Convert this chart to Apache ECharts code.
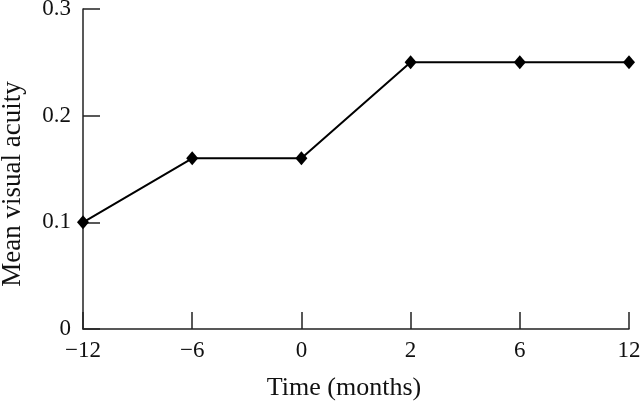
<!DOCTYPE html>
<html>
<head>
<meta charset="utf-8">
<script src="https://cdn.jsdelivr.net/npm/echarts@6/dist/echarts.min.js"></script>
<style>
  html, body { margin: 0; padding: 0; background: #fff; }
  #chart { width: 640px; height: 401px; }
</style>
</head>
<body>
<div id="chart"></div>
<script>
// 时间点 (月)
var months = ['\u221212', '\u22126', '0', '2', '6', '12'];
// 平均视力
var acuity = [0.1, 0.16, 0.16, 0.25, 0.25, 0.25];

var font = '"Liberation Serif", "DejaVu Serif", serif';

var myChart = echarts.init(document.getElementById('chart'));
var option = {
  animation: false,
  grid: { left: 83, right: 11, top: 9, bottom: 72, outerBoundsMode: 'none', containLabel: false },
  xAxis: {
    type: 'category',
    data: months,
    boundaryGap: false,
    name: 'Time (months)',
    nameLocation: 'middle',
    nameGap: 46,
    nameTextStyle: { color: '#111', fontSize: 26, fontFamily: font, padding: [0, 24, 0, 0] },
    axisLine: { lineStyle: { color: '#222', width: 1.5 } },
    axisTick: { inside: true, length: 17, lineStyle: { color: '#222', width: 1.5 } },
    axisLabel: { color: '#111', fontSize: 23, fontFamily: font, margin: 10 },
    splitLine: { show: false }
  },
  yAxis: {
    type: 'value',
    min: 0,
    max: 0.3,
    interval: 0.1,
    name: 'Mean visual acuity',
    nameLocation: 'middle',
    nameGap: 57,
    nameTextStyle: { color: '#111', fontSize: 27, fontFamily: font, padding: [0, 30, 0, 0] },
    axisLine: { show: true, lineStyle: { color: '#222', width: 1.5 } },
    axisTick: { show: true, inside: true, length: 17, lineStyle: { color: '#222', width: 1.5 } },
    axisLabel: { color: '#111', fontSize: 23, fontFamily: font, margin: 12 },
    splitLine: { show: false }
  },
  series: [
    {
      type: 'line',
      data: acuity,
      symbol: 'diamond',
      symbolSize: [12, 14],
      itemStyle: { color: '#000' },
      lineStyle: { color: '#000', width: 2 }
    }
  ]
};
myChart.setOption(option);
</script>
</body>
</html>
